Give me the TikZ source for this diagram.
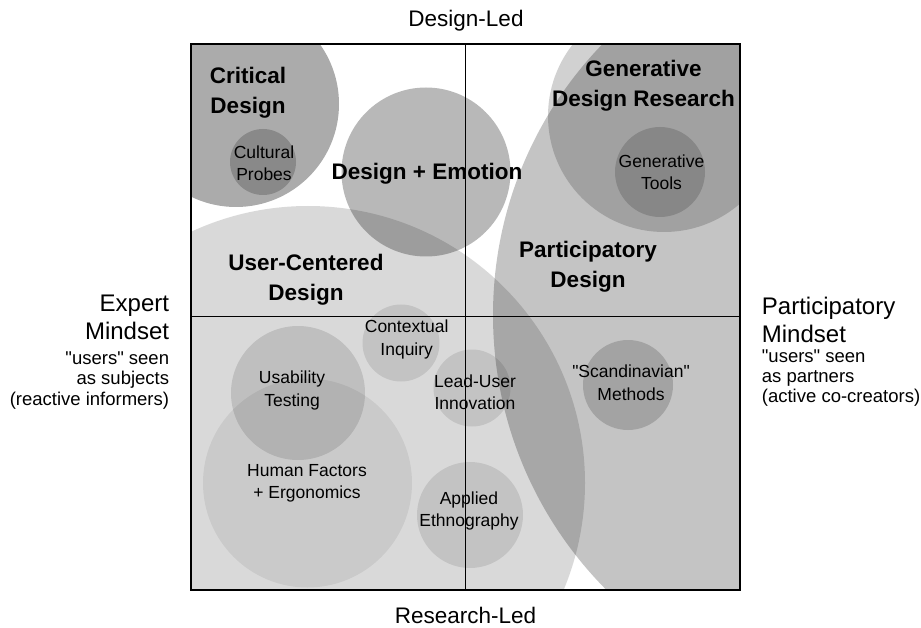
\documentclass[tikz,border=0pt]{standalone}
\usepackage{fontspec}
\setmainfont{Liberation Sans}[Ligatures=TeXOff]
\begin{document}
\begin{tikzpicture}[x=1pt,y=-1pt]
\tikzstyle{blob}=[circle,fill=black,inner sep=0pt];
\tikzstyle{headlbl}=[font=\fontsize{22.5}{30}\selectfont\bfseries,align=center,inner sep=0pt];
\tikzstyle{itemlbl}=[font=\fontsize{17.5}{22.5}\selectfont,align=center,inner sep=0pt];
\tikzstyle{axislbl}=[font=\fontsize{22.5}{27}\selectfont,inner sep=0pt];
\tikzstyle{mindlbl}=[font=\fontsize{24}{28.3}\selectfont,inner sep=0pt];
\tikzstyle{notelbl}=[font=\fontsize{18.5}{20.8}\selectfont,inner sep=0pt];
\useasboundingbox (0,0) rectangle (921,628);
\coordinate (nw) at (191,44);
\coordinate (se) at (740,590);
\coordinate (mid) at (465.5,317);

% circles, cut to the square
\begin{scope}
\clip (nw) rectangle (se);
\node [blob,minimum size=554pt,fill opacity=0.15] (ucd) at (308,483) {};
\node [blob,minimum size=780pt,fill opacity=0.23] (pd) at (883,315) {};
\node [blob,minimum size=232pt,fill opacity=0.18] (gdr) at (664,116) {};
\node [blob,minimum size=90pt,fill opacity=0.16] (gtools) at (660,172) {};
\node [blob,minimum size=206pt,fill opacity=0.33] (crit) at (236,104) {};
\node [blob,minimum size=66pt,fill opacity=0.2] (probes) at (263,162) {};
\node [blob,minimum size=169pt,fill opacity=0.28] (emo) at (426,172) {};
\node [blob,minimum size=77pt,fill opacity=0.1] (ci) at (401,343) {};
\node [blob,minimum size=134pt,fill opacity=0.12] (ut) at (298,393) {};
\node [blob,minimum size=209pt,fill opacity=0.07] (hfe) at (307.5,483) {};
\node [blob,minimum size=77pt,fill opacity=0.1] (lui) at (472,388) {};
\node [blob,minimum size=106pt,fill opacity=0.1] (ae) at (470,515) {};
\node [blob,minimum size=90pt,fill opacity=0.17] (scand) at (628,385) {};
\end{scope}

% square and axes
\draw [line width=2.5pt] (nw) rectangle (se);
\draw [line width=1pt] (mid |- nw) -- (mid |- se);
\draw [line width=1pt] (nw |- mid) -- (se |- mid);

\node [headlbl] (critlbl) at (248,92.6) {Critical\\Design};
\node [itemlbl] (probeslbl) at (264,163) {Cultural\\Probes};
\node [headlbl,anchor=base] (emolbl) at (427,179.3) {Design + Emotion};
\node [headlbl] (ucdlbl) at (306,279.3) {User-Centered\\Design};
\node [headlbl] (gdrlbl) at (643.5,86) {Generative\\Design Research};
\node [itemlbl] (gtoolslbl) at (661.5,172.4) {Generative\\Tools};
\node [headlbl] (pdlbl) at (588,266.8) {Participatory\\Design};
\node [itemlbl] (cilbl) at (406.7,339.4) {Contextual\\Inquiry};
\node [itemlbl] (utlbl) at (292,390.5) {Usability\\Testing};
\node [itemlbl] (hfelbl) at (307,483.4) {Human Factors\\+ Ergonomics};
\node [itemlbl] (luilbl) at (475,392) {Lead-User\\Innovation};
\node [itemlbl] (aelbl) at (469,510.9) {Applied\\Ethnography};
\node [itemlbl] (scandlbl) at (631,382.9) {"Scandinavian"\\Methods};

\node [axislbl,anchor=base] (top) at (466,26.7) {Design-Led};
\node [axislbl,anchor=base] (bottom) at (465.5,623.3) {Research-Led};
\node [mindlbl,anchor=east,align=right] (expert) at (169.3,317.3) {Expert\\Mindset};
\node [notelbl,anchor=east,align=right] (expertnote) at (169.3,380.5) {"users" seen\\as subjects\\(reactive informers)};
\node [mindlbl,anchor=west,align=left] (partic) at (761.7,319.7) {Participatory\\Mindset};
\node [notelbl,anchor=west,align=left,font=\fontsize{18.5}{20}\selectfont] (particnote) at (761.7,378.2) {"users" seen\\as partners\\(active co-creators)};
\end{tikzpicture}
\end{document}
